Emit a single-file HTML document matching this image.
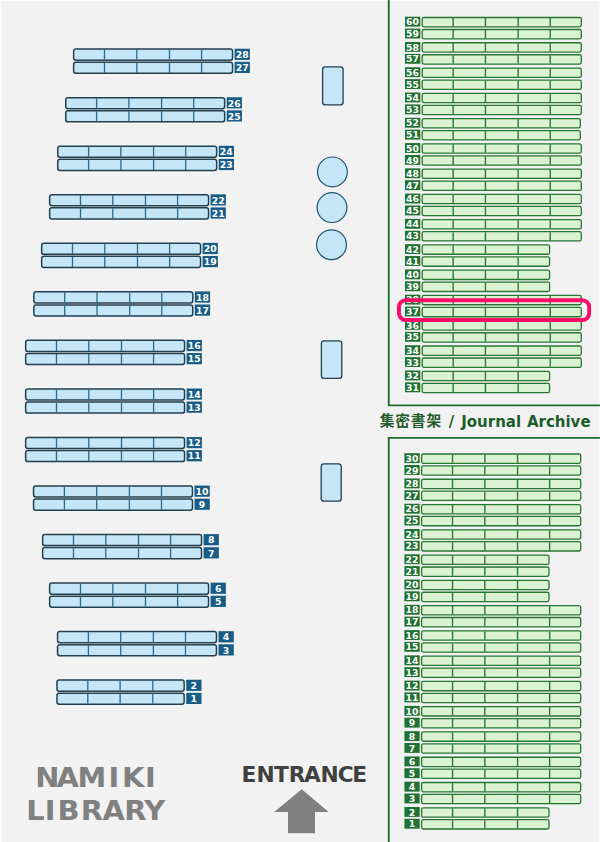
<!DOCTYPE html>
<html lang="ja">
<head>
<meta charset="utf-8">
<title>Namiki Library – Journal Archive shelf 37</title>
<style>
html,body{margin:0;padding:0;background:#f2f2f2;}
body{width:600px;height:842px;overflow:hidden;position:relative;font-family:"DejaVu Sans", Verdana, "Liberation Sans", sans-serif;}
svg{position:absolute;left:0;top:0;display:block;}
.bs{fill:#c5e6f7;stroke:#233f50;stroke-width:1.5;}
.bf{fill:#c5e6f7;stroke:#233f50;stroke-width:1.3;}
.bc{fill:#c5e6f7;stroke:#1d5471;stroke-width:1.2;}
.bd{fill:none;stroke:#2a6a8f;stroke-width:1.3;}
.bl{fill:#185d85;}
.gs{fill:#dcf3d3;stroke:#257631;stroke-width:1.3;}
.gd{fill:none;stroke:#2a7a36;stroke-width:1.4;}
.gl{fill:#207232;}
.gline{fill:none;stroke:#1f6f2d;stroke-width:1.9;}
.lt{font-family:"DejaVu Sans", Verdana, "Liberation Sans", sans-serif;font-weight:bold;font-size:9.3px;fill:#fff;text-anchor:middle;}
.ttl{font-family:"DejaVu Sans", Verdana, "Liberation Sans", "Noto Sans CJK JP", sans-serif;font-weight:bold;font-size:15px;fill:#1f5c2c;}
.nm{font-family:"DejaVu Sans", Verdana, "Liberation Sans", sans-serif;font-weight:bold;font-size:27px;fill:#808080;text-anchor:middle;}
.en{font-family:"DejaVu Sans", Verdana, "Liberation Sans", sans-serif;font-weight:bold;font-size:20.5px;fill:#404040;text-anchor:middle;}
.hl{fill:none;stroke:#fc0c69;stroke-width:3.9;}
</style>
</head>
<body>
<svg width="600" height="842" viewBox="0 0 600 842">
<rect x="0" y="0" width="600" height="842" fill="#f2f2f2"/>
<rect x="0" y="0" width="1.3" height="842" fill="#fff"/><rect x="0" y="0" width="600" height="1.1" fill="#fff"/><rect x="599" y="0" width="1" height="842" fill="#f9f9f9"/>
<g id="stacks">
<rect class="bs" x="73.65" y="49.1" width="158.9" height="11.1" rx="2.2"/>
<path class="bd" d="M104.5 49.6v10.1M136.8 49.6v10.1M169.5 49.6v10.1M201.6 49.6v10.1"/>
<rect class="bl" x="234.6" y="48.7" width="15.3" height="11.2"/>
<text class="lt" x="242.2" y="58">28</text>
<rect class="bs" x="73.65" y="62.2" width="158.9" height="11.1" rx="2.2"/>
<path class="bd" d="M104.5 62.7v10.1M136.8 62.7v10.1M169.5 62.7v10.1M201.6 62.7v10.1"/>
<rect class="bl" x="234.6" y="61.8" width="15.3" height="11.2"/>
<text class="lt" x="242.2" y="71.1">27</text>
<rect class="bs" x="65.75" y="97.64" width="158.9" height="11.1" rx="2.2"/>
<path class="bd" d="M96.6 98.14v10.1M128.9 98.14v10.1M161.6 98.14v10.1M193.7 98.14v10.1"/>
<rect class="bl" x="226.7" y="97.24" width="15.3" height="11.2"/>
<text class="lt" x="234.3" y="106.54">26</text>
<rect class="bs" x="65.75" y="110.74" width="158.9" height="11.1" rx="2.2"/>
<path class="bd" d="M96.6 111.24v10.1M128.9 111.24v10.1M161.6 111.24v10.1M193.7 111.24v10.1"/>
<rect class="bl" x="226.7" y="110.34" width="15.3" height="11.2"/>
<text class="lt" x="234.3" y="119.64">25</text>
<rect class="bs" x="57.75" y="146.18" width="158.9" height="11.1" rx="2.2"/>
<path class="bd" d="M88.6 146.68v10.1M120.9 146.68v10.1M153.6 146.68v10.1M185.7 146.68v10.1"/>
<rect class="bl" x="218.7" y="145.78" width="15.3" height="11.2"/>
<text class="lt" x="226.3" y="155.08">24</text>
<rect class="bs" x="57.75" y="159.28" width="158.9" height="11.1" rx="2.2"/>
<path class="bd" d="M88.6 159.78v10.1M120.9 159.78v10.1M153.6 159.78v10.1M185.7 159.78v10.1"/>
<rect class="bl" x="218.7" y="158.88" width="15.3" height="11.2"/>
<text class="lt" x="226.3" y="168.18">23</text>
<rect class="bs" x="49.65" y="194.72" width="158.9" height="11.1" rx="2.2"/>
<path class="bd" d="M80.5 195.22v10.1M112.8 195.22v10.1M145.5 195.22v10.1M177.6 195.22v10.1"/>
<rect class="bl" x="210.6" y="194.32" width="15.3" height="11.2"/>
<text class="lt" x="218.2" y="203.62">22</text>
<rect class="bs" x="49.65" y="207.82" width="158.9" height="11.1" rx="2.2"/>
<path class="bd" d="M80.5 208.32v10.1M112.8 208.32v10.1M145.5 208.32v10.1M177.6 208.32v10.1"/>
<rect class="bl" x="210.6" y="207.42" width="15.3" height="11.2"/>
<text class="lt" x="218.2" y="216.72">21</text>
<rect class="bs" x="41.65" y="243.26" width="158.9" height="11.1" rx="2.2"/>
<path class="bd" d="M72.5 243.76v10.1M104.8 243.76v10.1M137.5 243.76v10.1M169.6 243.76v10.1"/>
<rect class="bl" x="202.6" y="242.86" width="15.3" height="11.2"/>
<text class="lt" x="210.2" y="252.16">20</text>
<rect class="bs" x="41.65" y="256.36" width="158.9" height="11.1" rx="2.2"/>
<path class="bd" d="M72.5 256.86v10.1M104.8 256.86v10.1M137.5 256.86v10.1M169.6 256.86v10.1"/>
<rect class="bl" x="202.6" y="255.96" width="15.3" height="11.2"/>
<text class="lt" x="210.2" y="265.26">19</text>
<rect class="bs" x="33.85" y="291.8" width="158.9" height="11.1" rx="2.2"/>
<path class="bd" d="M64.7 292.3v10.1M97 292.3v10.1M129.7 292.3v10.1M161.8 292.3v10.1"/>
<rect class="bl" x="194.8" y="291.4" width="15.3" height="11.2"/>
<text class="lt" x="202.4" y="300.7">18</text>
<rect class="bs" x="33.85" y="304.9" width="158.9" height="11.1" rx="2.2"/>
<path class="bd" d="M64.7 305.4v10.1M97 305.4v10.1M129.7 305.4v10.1M161.8 305.4v10.1"/>
<rect class="bl" x="194.8" y="304.5" width="15.3" height="11.2"/>
<text class="lt" x="202.4" y="313.8">17</text>
<rect class="bs" x="25.65" y="340.34" width="158.9" height="11.1" rx="2.2"/>
<path class="bd" d="M56.5 340.84v10.1M88.8 340.84v10.1M121.5 340.84v10.1M153.6 340.84v10.1"/>
<rect class="bl" x="186.6" y="339.94" width="15.3" height="11.2"/>
<text class="lt" x="194.2" y="349.24">16</text>
<rect class="bs" x="25.65" y="353.44" width="158.9" height="11.1" rx="2.2"/>
<path class="bd" d="M56.5 353.94v10.1M88.8 353.94v10.1M121.5 353.94v10.1M153.6 353.94v10.1"/>
<rect class="bl" x="186.6" y="353.04" width="15.3" height="11.2"/>
<text class="lt" x="194.2" y="362.34">15</text>
<rect class="bs" x="25.65" y="388.88" width="158.9" height="11.1" rx="2.2"/>
<path class="bd" d="M56.5 389.38v10.1M88.8 389.38v10.1M121.5 389.38v10.1M153.6 389.38v10.1"/>
<rect class="bl" x="186.6" y="388.48" width="15.3" height="11.2"/>
<text class="lt" x="194.2" y="397.78">14</text>
<rect class="bs" x="25.65" y="401.98" width="158.9" height="11.1" rx="2.2"/>
<path class="bd" d="M56.5 402.48v10.1M88.8 402.48v10.1M121.5 402.48v10.1M153.6 402.48v10.1"/>
<rect class="bl" x="186.6" y="401.58" width="15.3" height="11.2"/>
<text class="lt" x="194.2" y="410.88">13</text>
<rect class="bs" x="25.65" y="437.42" width="158.9" height="11.1" rx="2.2"/>
<path class="bd" d="M56.5 437.92v10.1M88.8 437.92v10.1M121.5 437.92v10.1M153.6 437.92v10.1"/>
<rect class="bl" x="186.6" y="437.02" width="15.3" height="11.2"/>
<text class="lt" x="194.2" y="446.32">12</text>
<rect class="bs" x="25.65" y="450.52" width="158.9" height="11.1" rx="2.2"/>
<path class="bd" d="M56.5 451.02v10.1M88.8 451.02v10.1M121.5 451.02v10.1M153.6 451.02v10.1"/>
<rect class="bl" x="186.6" y="450.12" width="15.3" height="11.2"/>
<text class="lt" x="194.2" y="459.42">11</text>
<rect class="bs" x="33.55" y="485.96" width="158.9" height="11.1" rx="2.2"/>
<path class="bd" d="M64.4 486.46v10.1M96.7 486.46v10.1M129.4 486.46v10.1M161.5 486.46v10.1"/>
<rect class="bl" x="194.5" y="485.56" width="15.3" height="11.2"/>
<text class="lt" x="202.1" y="494.86">10</text>
<rect class="bs" x="33.55" y="499.06" width="158.9" height="11.1" rx="2.2"/>
<path class="bd" d="M64.4 499.56v10.1M96.7 499.56v10.1M129.4 499.56v10.1M161.5 499.56v10.1"/>
<rect class="bl" x="194.5" y="498.66" width="15.3" height="11.2"/>
<text class="lt" x="202.1" y="507.96">9</text>
<rect class="bs" x="42.65" y="534.5" width="158.9" height="11.1" rx="2.2"/>
<path class="bd" d="M73.5 535v10.1M105.8 535v10.1M138.5 535v10.1M170.6 535v10.1"/>
<rect class="bl" x="203.6" y="534.1" width="15.3" height="11.2"/>
<text class="lt" x="211.2" y="543.4">8</text>
<rect class="bs" x="42.65" y="547.6" width="158.9" height="11.1" rx="2.2"/>
<path class="bd" d="M73.5 548.1v10.1M105.8 548.1v10.1M138.5 548.1v10.1M170.6 548.1v10.1"/>
<rect class="bl" x="203.6" y="547.2" width="15.3" height="11.2"/>
<text class="lt" x="211.2" y="556.5">7</text>
<rect class="bs" x="49.65" y="583.04" width="158.9" height="11.1" rx="2.2"/>
<path class="bd" d="M80.5 583.54v10.1M112.8 583.54v10.1M145.5 583.54v10.1M177.6 583.54v10.1"/>
<rect class="bl" x="210.6" y="582.64" width="15.3" height="11.2"/>
<text class="lt" x="218.2" y="591.94">6</text>
<rect class="bs" x="49.65" y="596.14" width="158.9" height="11.1" rx="2.2"/>
<path class="bd" d="M80.5 596.64v10.1M112.8 596.64v10.1M145.5 596.64v10.1M177.6 596.64v10.1"/>
<rect class="bl" x="210.6" y="595.74" width="15.3" height="11.2"/>
<text class="lt" x="218.2" y="605.04">5</text>
<rect class="bs" x="57.55" y="631.58" width="158.9" height="11.1" rx="2.2"/>
<path class="bd" d="M88.4 632.08v10.1M120.7 632.08v10.1M153.4 632.08v10.1M185.5 632.08v10.1"/>
<rect class="bl" x="218.5" y="631.18" width="15.3" height="11.2"/>
<text class="lt" x="226.1" y="640.48">4</text>
<rect class="bs" x="57.55" y="644.68" width="158.9" height="11.1" rx="2.2"/>
<path class="bd" d="M88.4 645.18v10.1M120.7 645.18v10.1M153.4 645.18v10.1M185.5 645.18v10.1"/>
<rect class="bl" x="218.5" y="644.28" width="15.3" height="11.2"/>
<text class="lt" x="226.1" y="653.58">3</text>
<rect class="bs" x="56.95" y="680.12" width="127.2" height="11.1" rx="2.2"/>
<path class="bd" d="M87.8 680.62v10.1M120.1 680.62v10.1M152.8 680.62v10.1"/>
<rect class="bl" x="186.2" y="679.72" width="15.3" height="11.2"/>
<text class="lt" x="193.8" y="689.02">2</text>
<rect class="bs" x="56.95" y="693.22" width="127.2" height="11.1" rx="2.2"/>
<path class="bd" d="M87.8 693.72v10.1M120.1 693.72v10.1M152.8 693.72v10.1"/>
<rect class="bl" x="186.2" y="692.82" width="15.3" height="11.2"/>
<text class="lt" x="193.8" y="702.12">1</text>
</g>
<g id="furniture">
<rect class="bf" x="322.6" y="66.95" width="20.5" height="38" rx="2.7"/>
<rect class="bf" x="321.4" y="340.8" width="20.4" height="37.6" rx="2.7"/>
<rect class="bf" x="321.2" y="463.8" width="20" height="37.4" rx="2.7"/>
<circle class="bc" cx="332.4" cy="171.9" r="14.9"/>
<circle class="bc" cx="332" cy="207.6" r="14.9"/>
<circle class="bc" cx="331.5" cy="244.7" r="14.9"/>
</g>
<g id="archive-upper">
<path class="gline" d="M388.75 0V405.35H600"/>
<rect class="gs" x="422.2" y="17.5" width="159.1" height="9.3" rx="1.7"/>
<path class="gd" d="M453.15 18v8.3M485.45 18v8.3M518.15 18v8.3M550.25 18v8.3"/>
<rect class="gl" x="405" y="16.7" width="15.3" height="9.9"/>
<text class="lt" x="412.55" y="25.3">60</text>
<rect class="gs" x="422.2" y="29.5" width="159.1" height="9.3" rx="1.7"/>
<path class="gd" d="M453.15 30v8.3M485.45 30v8.3M518.15 30v8.3M550.25 30v8.3"/>
<rect class="gl" x="405" y="28.6" width="15.3" height="9.9"/>
<text class="lt" x="412.55" y="37.2">59</text>
<rect class="gs" x="422.2" y="42.77" width="159.1" height="9.3" rx="1.7"/>
<path class="gd" d="M453.15 43.27v8.3M485.45 43.27v8.3M518.15 43.27v8.3M550.25 43.27v8.3"/>
<rect class="gl" x="405" y="41.97" width="15.3" height="9.9"/>
<text class="lt" x="412.55" y="50.57">58</text>
<rect class="gs" x="422.2" y="54.77" width="159.1" height="9.3" rx="1.7"/>
<path class="gd" d="M453.15 55.27v8.3M485.45 55.27v8.3M518.15 55.27v8.3M550.25 55.27v8.3"/>
<rect class="gl" x="405" y="53.87" width="15.3" height="9.9"/>
<text class="lt" x="412.55" y="62.47">57</text>
<rect class="gs" x="422.2" y="68.04" width="159.1" height="9.3" rx="1.7"/>
<path class="gd" d="M453.15 68.54v8.3M485.45 68.54v8.3M518.15 68.54v8.3M550.25 68.54v8.3"/>
<rect class="gl" x="405" y="67.24" width="15.3" height="9.9"/>
<text class="lt" x="412.55" y="75.84">56</text>
<rect class="gs" x="422.2" y="80.04" width="159.1" height="9.3" rx="1.7"/>
<path class="gd" d="M453.15 80.54v8.3M485.45 80.54v8.3M518.15 80.54v8.3M550.25 80.54v8.3"/>
<rect class="gl" x="405" y="79.14" width="15.3" height="9.9"/>
<text class="lt" x="412.55" y="87.74">55</text>
<rect class="gs" x="422.2" y="93.31" width="159.1" height="9.3" rx="1.7"/>
<path class="gd" d="M453.15 93.81v8.3M485.45 93.81v8.3M518.15 93.81v8.3M550.25 93.81v8.3"/>
<rect class="gl" x="405" y="92.51" width="15.3" height="9.9"/>
<text class="lt" x="412.55" y="101.11">54</text>
<rect class="gs" x="422.2" y="105.31" width="159.1" height="9.3" rx="1.7"/>
<path class="gd" d="M453.15 105.81v8.3M485.45 105.81v8.3M518.15 105.81v8.3M550.25 105.81v8.3"/>
<rect class="gl" x="405" y="104.41" width="15.3" height="9.9"/>
<text class="lt" x="412.55" y="113.01">53</text>
<rect class="gs" x="422.2" y="118.58" width="158.1" height="9.3" rx="1.7"/>
<path class="gd" d="M453.15 119.08v8.3M485.45 119.08v8.3M518.15 119.08v8.3M550.25 119.08v8.3"/>
<rect class="gl" x="405" y="117.78" width="15.3" height="9.9"/>
<text class="lt" x="412.55" y="126.38">52</text>
<rect class="gs" x="422.2" y="130.58" width="158.1" height="9.3" rx="1.7"/>
<path class="gd" d="M453.15 131.08v8.3M485.45 131.08v8.3M518.15 131.08v8.3M550.25 131.08v8.3"/>
<rect class="gl" x="405" y="129.68" width="15.3" height="9.9"/>
<text class="lt" x="412.55" y="138.28">51</text>
<rect class="gs" x="422.2" y="143.85" width="159.1" height="9.3" rx="1.7"/>
<path class="gd" d="M453.15 144.35v8.3M485.45 144.35v8.3M518.15 144.35v8.3M550.25 144.35v8.3"/>
<rect class="gl" x="405" y="143.05" width="15.3" height="9.9"/>
<text class="lt" x="412.55" y="151.65">50</text>
<rect class="gs" x="422.2" y="155.85" width="159.1" height="9.3" rx="1.7"/>
<path class="gd" d="M453.15 156.35v8.3M485.45 156.35v8.3M518.15 156.35v8.3M550.25 156.35v8.3"/>
<rect class="gl" x="405" y="154.95" width="15.3" height="9.9"/>
<text class="lt" x="412.55" y="163.55">49</text>
<rect class="gs" x="422.2" y="169.12" width="159.1" height="9.3" rx="1.7"/>
<path class="gd" d="M453.15 169.62v8.3M485.45 169.62v8.3M518.15 169.62v8.3M550.25 169.62v8.3"/>
<rect class="gl" x="405" y="168.32" width="15.3" height="9.9"/>
<text class="lt" x="412.55" y="176.92">48</text>
<rect class="gs" x="422.2" y="181.12" width="159.1" height="9.3" rx="1.7"/>
<path class="gd" d="M453.15 181.62v8.3M485.45 181.62v8.3M518.15 181.62v8.3M550.25 181.62v8.3"/>
<rect class="gl" x="405" y="180.22" width="15.3" height="9.9"/>
<text class="lt" x="412.55" y="188.82">47</text>
<rect class="gs" x="422.2" y="194.39" width="159.1" height="9.3" rx="1.7"/>
<path class="gd" d="M453.15 194.89v8.3M485.45 194.89v8.3M518.15 194.89v8.3M550.25 194.89v8.3"/>
<rect class="gl" x="405" y="193.59" width="15.3" height="9.9"/>
<text class="lt" x="412.55" y="202.19">46</text>
<rect class="gs" x="422.2" y="206.39" width="159.1" height="9.3" rx="1.7"/>
<path class="gd" d="M453.15 206.89v8.3M485.45 206.89v8.3M518.15 206.89v8.3M550.25 206.89v8.3"/>
<rect class="gl" x="405" y="205.49" width="15.3" height="9.9"/>
<text class="lt" x="412.55" y="214.09">45</text>
<rect class="gs" x="422.2" y="219.66" width="159.1" height="9.3" rx="1.7"/>
<path class="gd" d="M453.15 220.16v8.3M485.45 220.16v8.3M518.15 220.16v8.3M550.25 220.16v8.3"/>
<rect class="gl" x="405" y="218.86" width="15.3" height="9.9"/>
<text class="lt" x="412.55" y="227.46">44</text>
<rect class="gs" x="422.2" y="231.66" width="159.1" height="9.3" rx="1.7"/>
<path class="gd" d="M453.15 232.16v8.3M485.45 232.16v8.3M518.15 232.16v8.3M550.25 232.16v8.3"/>
<rect class="gl" x="405" y="230.76" width="15.3" height="9.9"/>
<text class="lt" x="412.55" y="239.36">43</text>
<rect class="gs" x="422.2" y="244.93" width="127.4" height="9.3" rx="1.7"/>
<path class="gd" d="M453.15 245.43v8.3M485.45 245.43v8.3M518.15 245.43v8.3"/>
<rect class="gl" x="405" y="244.13" width="15.3" height="9.9"/>
<text class="lt" x="412.55" y="252.73">42</text>
<rect class="gs" x="422.2" y="256.93" width="127.4" height="9.3" rx="1.7"/>
<path class="gd" d="M453.15 257.43v8.3M485.45 257.43v8.3M518.15 257.43v8.3"/>
<rect class="gl" x="405" y="256.03" width="15.3" height="9.9"/>
<text class="lt" x="412.55" y="264.63">41</text>
<rect class="gs" x="422.2" y="270.2" width="127.4" height="9.3" rx="1.7"/>
<path class="gd" d="M453.15 270.7v8.3M485.45 270.7v8.3M518.15 270.7v8.3"/>
<rect class="gl" x="405" y="269.4" width="15.3" height="9.9"/>
<text class="lt" x="412.55" y="278">40</text>
<rect class="gs" x="422.2" y="282.2" width="127.4" height="9.3" rx="1.7"/>
<path class="gd" d="M453.15 282.7v8.3M485.45 282.7v8.3M518.15 282.7v8.3"/>
<rect class="gl" x="405" y="281.3" width="15.3" height="9.9"/>
<text class="lt" x="412.55" y="289.9">39</text>
<rect class="gs" x="422.2" y="295.47" width="159.1" height="9.3" rx="1.7"/>
<path class="gd" d="M453.15 295.97v8.3M485.45 295.97v8.3M518.15 295.97v8.3M550.25 295.97v8.3"/>
<rect class="gl" x="405" y="294.67" width="15.3" height="9.9"/>
<text class="lt" x="412.55" y="303.27">38</text>
<rect class="gs" x="422.2" y="307.47" width="159.1" height="9.3" rx="1.7"/>
<path class="gd" d="M453.15 307.97v8.3M485.45 307.97v8.3M518.15 307.97v8.3M550.25 307.97v8.3"/>
<rect class="gl" x="405" y="306.57" width="15.3" height="9.9"/>
<text class="lt" x="412.55" y="315.17">37</text>
<rect class="gs" x="422.2" y="320.74" width="159.1" height="9.3" rx="1.7"/>
<path class="gd" d="M453.15 321.24v8.3M485.45 321.24v8.3M518.15 321.24v8.3M550.25 321.24v8.3"/>
<rect class="gl" x="405" y="319.94" width="15.3" height="9.9"/>
<text class="lt" x="412.55" y="328.54">36</text>
<rect class="gs" x="422.2" y="332.74" width="159.1" height="9.3" rx="1.7"/>
<path class="gd" d="M453.15 333.24v8.3M485.45 333.24v8.3M518.15 333.24v8.3M550.25 333.24v8.3"/>
<rect class="gl" x="405" y="331.84" width="15.3" height="9.9"/>
<text class="lt" x="412.55" y="340.44">35</text>
<rect class="gs" x="422.2" y="346.01" width="159.1" height="9.3" rx="1.7"/>
<path class="gd" d="M453.15 346.51v8.3M485.45 346.51v8.3M518.15 346.51v8.3M550.25 346.51v8.3"/>
<rect class="gl" x="405" y="345.21" width="15.3" height="9.9"/>
<text class="lt" x="412.55" y="353.81">34</text>
<rect class="gs" x="422.2" y="358.01" width="159.1" height="9.3" rx="1.7"/>
<path class="gd" d="M453.15 358.51v8.3M485.45 358.51v8.3M518.15 358.51v8.3M550.25 358.51v8.3"/>
<rect class="gl" x="405" y="357.11" width="15.3" height="9.9"/>
<text class="lt" x="412.55" y="365.71">33</text>
<rect class="gs" x="422.2" y="371.28" width="127.4" height="9.3" rx="1.7"/>
<path class="gd" d="M453.15 371.78v8.3M485.45 371.78v8.3M518.15 371.78v8.3"/>
<rect class="gl" x="405" y="370.48" width="15.3" height="9.9"/>
<text class="lt" x="412.55" y="379.08">32</text>
<rect class="gs" x="422.2" y="383.28" width="127.4" height="9.3" rx="1.7"/>
<path class="gd" d="M453.15 383.78v8.3M485.45 383.78v8.3M518.15 383.78v8.3"/>
<rect class="gl" x="405" y="382.38" width="15.3" height="9.9"/>
<text class="lt" x="412.55" y="390.98">31</text>
</g>
<g id="archive-lower">
<path class="gline" d="M600 437.85H388.75V842"/>
<rect class="gs" x="421.6" y="454" width="159.1" height="9.3" rx="1.7"/>
<path class="gd" d="M452.55 454.5v8.3M484.85 454.5v8.3M517.55 454.5v8.3M549.65 454.5v8.3"/>
<rect class="gl" x="404.4" y="453.2" width="15.3" height="9.9"/>
<text class="lt" x="411.95" y="461.8">30</text>
<rect class="gs" x="421.6" y="465.9" width="159.1" height="9.3" rx="1.7"/>
<path class="gd" d="M452.55 466.4v8.3M484.85 466.4v8.3M517.55 466.4v8.3M549.65 466.4v8.3"/>
<rect class="gl" x="404.4" y="465" width="15.3" height="9.9"/>
<text class="lt" x="411.95" y="473.6">29</text>
<rect class="gs" x="421.6" y="479.27" width="159.1" height="9.3" rx="1.7"/>
<path class="gd" d="M452.55 479.77v8.3M484.85 479.77v8.3M517.55 479.77v8.3M549.65 479.77v8.3"/>
<rect class="gl" x="404.4" y="478.47" width="15.3" height="9.9"/>
<text class="lt" x="411.95" y="487.07">28</text>
<rect class="gs" x="421.6" y="491.17" width="159.1" height="9.3" rx="1.7"/>
<path class="gd" d="M452.55 491.67v8.3M484.85 491.67v8.3M517.55 491.67v8.3M549.65 491.67v8.3"/>
<rect class="gl" x="404.4" y="490.27" width="15.3" height="9.9"/>
<text class="lt" x="411.95" y="498.87">27</text>
<rect class="gs" x="421.6" y="504.54" width="159.1" height="9.3" rx="1.7"/>
<path class="gd" d="M452.55 505.04v8.3M484.85 505.04v8.3M517.55 505.04v8.3M549.65 505.04v8.3"/>
<rect class="gl" x="404.4" y="503.74" width="15.3" height="9.9"/>
<text class="lt" x="411.95" y="512.34">26</text>
<rect class="gs" x="421.6" y="516.44" width="159.1" height="9.3" rx="1.7"/>
<path class="gd" d="M452.55 516.94v8.3M484.85 516.94v8.3M517.55 516.94v8.3M549.65 516.94v8.3"/>
<rect class="gl" x="404.4" y="515.54" width="15.3" height="9.9"/>
<text class="lt" x="411.95" y="524.14">25</text>
<rect class="gs" x="421.6" y="529.81" width="159.1" height="9.3" rx="1.7"/>
<path class="gd" d="M452.55 530.31v8.3M484.85 530.31v8.3M517.55 530.31v8.3M549.65 530.31v8.3"/>
<rect class="gl" x="404.4" y="529.01" width="15.3" height="9.9"/>
<text class="lt" x="411.95" y="537.61">24</text>
<rect class="gs" x="421.6" y="541.71" width="159.1" height="9.3" rx="1.7"/>
<path class="gd" d="M452.55 542.21v8.3M484.85 542.21v8.3M517.55 542.21v8.3M549.65 542.21v8.3"/>
<rect class="gl" x="404.4" y="540.81" width="15.3" height="9.9"/>
<text class="lt" x="411.95" y="549.41">23</text>
<rect class="gs" x="421.6" y="555.08" width="127.4" height="9.3" rx="1.7"/>
<path class="gd" d="M452.55 555.58v8.3M484.85 555.58v8.3M517.55 555.58v8.3"/>
<rect class="gl" x="404.4" y="554.28" width="15.3" height="9.9"/>
<text class="lt" x="411.95" y="562.88">22</text>
<rect class="gs" x="421.6" y="566.98" width="127.4" height="9.3" rx="1.7"/>
<path class="gd" d="M452.55 567.48v8.3M484.85 567.48v8.3M517.55 567.48v8.3"/>
<rect class="gl" x="404.4" y="566.08" width="15.3" height="9.9"/>
<text class="lt" x="411.95" y="574.68">21</text>
<rect class="gs" x="421.6" y="580.35" width="127.4" height="9.3" rx="1.7"/>
<path class="gd" d="M452.55 580.85v8.3M484.85 580.85v8.3M517.55 580.85v8.3"/>
<rect class="gl" x="404.4" y="579.55" width="15.3" height="9.9"/>
<text class="lt" x="411.95" y="588.15">20</text>
<rect class="gs" x="421.6" y="592.25" width="127.4" height="9.3" rx="1.7"/>
<path class="gd" d="M452.55 592.75v8.3M484.85 592.75v8.3M517.55 592.75v8.3"/>
<rect class="gl" x="404.4" y="591.35" width="15.3" height="9.9"/>
<text class="lt" x="411.95" y="599.95">19</text>
<rect class="gs" x="421.6" y="605.62" width="159.1" height="9.3" rx="1.7"/>
<path class="gd" d="M452.55 606.12v8.3M484.85 606.12v8.3M517.55 606.12v8.3M549.65 606.12v8.3"/>
<rect class="gl" x="404.4" y="604.82" width="15.3" height="9.9"/>
<text class="lt" x="411.95" y="613.42">18</text>
<rect class="gs" x="421.6" y="617.52" width="159.1" height="9.3" rx="1.7"/>
<path class="gd" d="M452.55 618.02v8.3M484.85 618.02v8.3M517.55 618.02v8.3M549.65 618.02v8.3"/>
<rect class="gl" x="404.4" y="616.62" width="15.3" height="9.9"/>
<text class="lt" x="411.95" y="625.22">17</text>
<rect class="gs" x="421.6" y="630.89" width="159.1" height="9.3" rx="1.7"/>
<path class="gd" d="M452.55 631.39v8.3M484.85 631.39v8.3M517.55 631.39v8.3M549.65 631.39v8.3"/>
<rect class="gl" x="404.4" y="630.09" width="15.3" height="9.9"/>
<text class="lt" x="411.95" y="638.69">16</text>
<rect class="gs" x="421.6" y="642.79" width="159.1" height="9.3" rx="1.7"/>
<path class="gd" d="M452.55 643.29v8.3M484.85 643.29v8.3M517.55 643.29v8.3M549.65 643.29v8.3"/>
<rect class="gl" x="404.4" y="641.89" width="15.3" height="9.9"/>
<text class="lt" x="411.95" y="650.49">15</text>
<rect class="gs" x="421.6" y="656.16" width="159.1" height="9.3" rx="1.7"/>
<path class="gd" d="M452.55 656.66v8.3M484.85 656.66v8.3M517.55 656.66v8.3M549.65 656.66v8.3"/>
<rect class="gl" x="404.4" y="655.36" width="15.3" height="9.9"/>
<text class="lt" x="411.95" y="663.96">14</text>
<rect class="gs" x="421.6" y="668.06" width="159.1" height="9.3" rx="1.7"/>
<path class="gd" d="M452.55 668.56v8.3M484.85 668.56v8.3M517.55 668.56v8.3M549.65 668.56v8.3"/>
<rect class="gl" x="404.4" y="667.16" width="15.3" height="9.9"/>
<text class="lt" x="411.95" y="675.76">13</text>
<rect class="gs" x="421.6" y="681.43" width="159.1" height="9.3" rx="1.7"/>
<path class="gd" d="M452.55 681.93v8.3M484.85 681.93v8.3M517.55 681.93v8.3M549.65 681.93v8.3"/>
<rect class="gl" x="404.4" y="680.63" width="15.3" height="9.9"/>
<text class="lt" x="411.95" y="689.23">12</text>
<rect class="gs" x="421.6" y="693.33" width="159.1" height="9.3" rx="1.7"/>
<path class="gd" d="M452.55 693.83v8.3M484.85 693.83v8.3M517.55 693.83v8.3M549.65 693.83v8.3"/>
<rect class="gl" x="404.4" y="692.43" width="15.3" height="9.9"/>
<text class="lt" x="411.95" y="701.03">11</text>
<rect class="gs" x="421.6" y="706.7" width="159.1" height="9.3" rx="1.7"/>
<path class="gd" d="M452.55 707.2v8.3M484.85 707.2v8.3M517.55 707.2v8.3M549.65 707.2v8.3"/>
<rect class="gl" x="404.4" y="705.9" width="15.3" height="9.9"/>
<text class="lt" x="411.95" y="714.5">10</text>
<rect class="gs" x="421.6" y="718.6" width="159.1" height="9.3" rx="1.7"/>
<path class="gd" d="M452.55 719.1v8.3M484.85 719.1v8.3M517.55 719.1v8.3M549.65 719.1v8.3"/>
<rect class="gl" x="404.4" y="717.7" width="15.3" height="9.9"/>
<text class="lt" x="411.95" y="726.3">9</text>
<rect class="gs" x="421.6" y="731.97" width="159.1" height="9.3" rx="1.7"/>
<path class="gd" d="M452.55 732.47v8.3M484.85 732.47v8.3M517.55 732.47v8.3M549.65 732.47v8.3"/>
<rect class="gl" x="404.4" y="731.17" width="15.3" height="9.9"/>
<text class="lt" x="411.95" y="739.77">8</text>
<rect class="gs" x="421.6" y="743.87" width="159.1" height="9.3" rx="1.7"/>
<path class="gd" d="M452.55 744.37v8.3M484.85 744.37v8.3M517.55 744.37v8.3M549.65 744.37v8.3"/>
<rect class="gl" x="404.4" y="742.97" width="15.3" height="9.9"/>
<text class="lt" x="411.95" y="751.57">7</text>
<rect class="gs" x="421.6" y="757.24" width="159.1" height="9.3" rx="1.7"/>
<path class="gd" d="M452.55 757.74v8.3M484.85 757.74v8.3M517.55 757.74v8.3M549.65 757.74v8.3"/>
<rect class="gl" x="404.4" y="756.44" width="15.3" height="9.9"/>
<text class="lt" x="411.95" y="765.04">6</text>
<rect class="gs" x="421.6" y="769.14" width="159.1" height="9.3" rx="1.7"/>
<path class="gd" d="M452.55 769.64v8.3M484.85 769.64v8.3M517.55 769.64v8.3M549.65 769.64v8.3"/>
<rect class="gl" x="404.4" y="768.24" width="15.3" height="9.9"/>
<text class="lt" x="411.95" y="776.84">5</text>
<rect class="gs" x="421.6" y="782.51" width="159.1" height="9.3" rx="1.7"/>
<path class="gd" d="M452.55 783.01v8.3M484.85 783.01v8.3M517.55 783.01v8.3M549.65 783.01v8.3"/>
<rect class="gl" x="404.4" y="781.71" width="15.3" height="9.9"/>
<text class="lt" x="411.95" y="790.31">4</text>
<rect class="gs" x="421.6" y="794.41" width="159.1" height="9.3" rx="1.7"/>
<path class="gd" d="M452.55 794.91v8.3M484.85 794.91v8.3M517.55 794.91v8.3M549.65 794.91v8.3"/>
<rect class="gl" x="404.4" y="793.51" width="15.3" height="9.9"/>
<text class="lt" x="411.95" y="802.11">3</text>
<rect class="gs" x="421.6" y="807.78" width="127.4" height="9.3" rx="1.7"/>
<path class="gd" d="M452.55 808.28v8.3M484.85 808.28v8.3M517.55 808.28v8.3"/>
<rect class="gl" x="404.4" y="806.98" width="15.3" height="9.9"/>
<text class="lt" x="411.95" y="815.58">2</text>
<rect class="gs" x="421.6" y="819.68" width="127.4" height="9.3" rx="1.7"/>
<path class="gd" d="M452.55 820.18v8.3M484.85 820.18v8.3M517.55 820.18v8.3"/>
<rect class="gl" x="404.4" y="818.78" width="15.3" height="9.9"/>
<text class="lt" x="411.95" y="827.38">1</text>
</g>
<text class="ttl" y="426.6"><tspan x="379.8" y="426.1" font-size="14.7" letter-spacing="0.85">集密書架</tspan><tspan x="451.5" y="426.6" text-anchor="middle"> / </tspan><tspan x="461.2">Journal</tspan> <tspan x="526.9">Archive</tspan></text>
<rect class="hl" x="398.95" y="300.25" width="190.2" height="19.75" rx="6.8"/>
<text class="nm" y="786.9" x="44.21 63.36 85.98 106.54 124.58 140.47" transform="scale(1.07,1)">NAMIKI</text>
<text class="nm" y="820" x="33.18 46.82 64.11 85.79 106.36 126.54 144.58" transform="scale(1.07,1)">LIBRARY</text>
<text class="en" y="781.8" x="234.91 250.47 265.57 280.19 294.72 310.85 326.23 339.34" transform="scale(1.06,1)">ENTRANCE</text>
<path fill="#808080" d="M301.7 789.2L328.7 812H315V833.2H288V812H274.2Z"/>
</svg>
</body>
</html>
